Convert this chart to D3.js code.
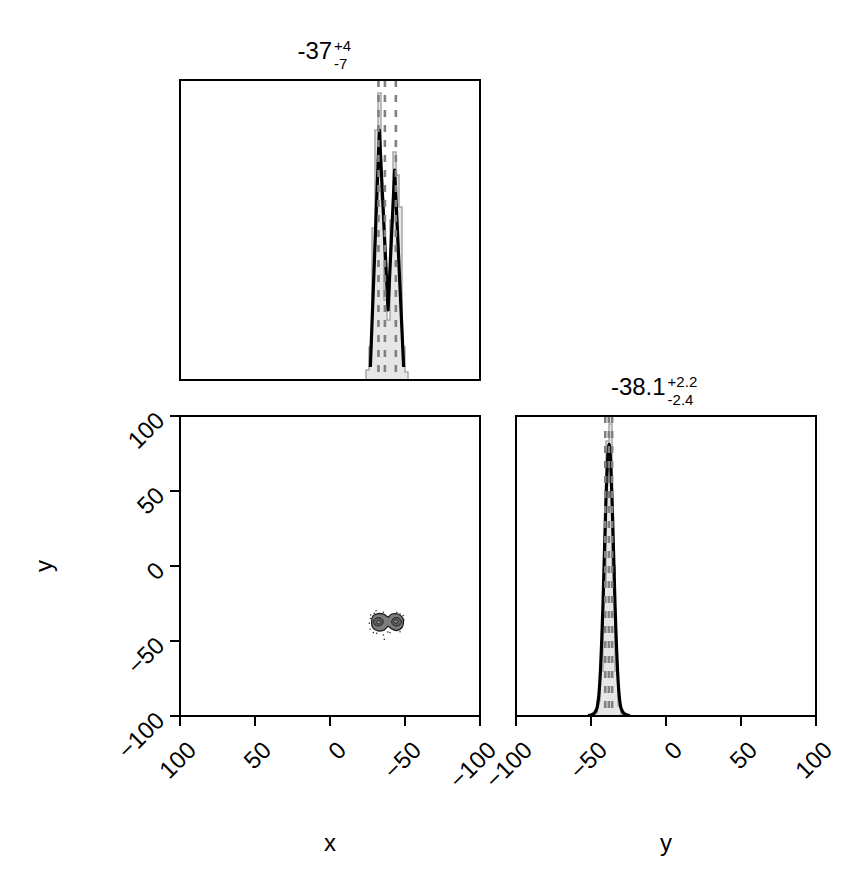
<!DOCTYPE html>
<html><head><meta charset="utf-8">
<script src="https://cdn.jsdelivr.net/npm/d3@7"></script>
<style>
body{margin:0;background:#fff}
svg{display:block}
text{font-family:"Liberation Sans", Arial, Helvetica, sans-serif;fill:#000}
</style>
</head><body>
<svg id="c" width="848" height="888"></svg>
<script>
// ---------------- data ----------------
const tickValues = [-100, -50, 0, 50, 100];
const axisLabels = ["x", "y"];

// x marginal (histogram bins, counts, density curve, quantiles)
const xBinEdges = [-52,-50,-48,-46,-44,-42,-40,-38,-36,-34,-32,-30,-28,-26,-24];
const xCounts   = [8, 33, 173, 205, 228, 160, 60, 80, 180, 287, 250, 152, 33, 10];
const xKdeX     = [-26.9, -32.9, -38.7, -43.1, -49.1];
const xKdeY     = [13, 250, 70, 210, 13];
const xQuantiles = [-43.9, -36.6, -32.3];
const xTitle = ["-37", "+4", "-7"];

// y marginal
const yBinEdges = [-48,-46,-44,-42,-40,-38,-36,-34,-32,-30,-28];
const yCounts   = [3, 15, 45, 130, 275, 292, 150, 45, 10, 2];
const yKdeX     = [-52, -50, -48, -46, -44, -42, -40, -37.9, -36, -34, -32, -30, -28, -26, -24];
const yKdeY     = [0.5, 1, 2.5, 8, 37, 112, 218, 272, 218, 112, 37, 8, 2.5, 1, 0.5];
const yQuantiles = [-40.5, -38.1, -35.9];
const yTitle = ["-38.1", "+2.2", "-2.4"];

// joint panel: outlying points and contour rings (x, y)
const outlierX = [-27.1,-30.7,-35.6,-42.2,-46.7,-26.2,-26.7,-28.9,-31.1,-35.6,-36.2,-40.0,-46.7,-47.8,-49.3,-44.5,-29.5,-38.5,-48.8,-27.0];
const outlierY = [-32.7,-29.8,-30.9,-32.7,-32.0,-38.2,-42.2,-44.4,-44.9,-46.0,-48.9,-44.4,-43.8,-40.4,-36.0,-31.1,-31.5,-44.0,-33.0,-35.0];
const outerRingX = [-27.7,-28.7,-32.0,-36.0,-38.7,-41.3,-45.3,-48.3,-49.0,-48.0,-44.7,-41.3,-38.7,-36.0,-32.0,-28.7];
const outerRingY = [-37.3,-33.3,-31.7,-32.3,-34.0,-32.0,-32.0,-34.3,-37.3,-41.0,-43.0,-42.0,-40.3,-42.7,-43.3,-41.3];
const midLeftX  = [-28.9,-29.9,-32.2,-34.5,-35.5,-34.5,-32.2,-29.9];
const midLeftY  = [-37.2,-35.2,-34.4,-35.2,-37.2,-39.2,-40.0,-39.2];
const midRightX = [-41.1,-42.0,-44.3,-46.6,-47.6,-46.6,-44.3,-42.0];
const midRightY = [-37.2,-35.2,-34.3,-35.2,-37.2,-39.2,-40.1,-39.2];
const innerLeftX  = [-31.0,-32.5,-34.0,-32.5];
const innerLeftY  = [-37.5,-36.3,-37.5,-38.7];
const innerRightX = [-42.5,-44.0,-45.5,-44.0];
const innerRightY = [-37.0,-35.8,-37.0,-38.2];

// ---------------- layout ----------------
const svg = d3.select("#c");
const S = 300;
const P1 = {x:180, y:80};   // x marginal
const P2 = {x:180, y:416};  // joint
const P3 = {x:516, y:416};  // y marginal
const TF = 24, SF = 15;

const xs  = d3.scaleLinear().domain([100, -100]).range([P1.x, P1.x + S]);
const ys2 = d3.scaleLinear().domain([-100, 100]).range([P2.y + S, P2.y]);
const xs3 = d3.scaleLinear().domain([-100, 100]).range([P3.x, P3.x + S]);
const h1  = d3.scaleLinear().domain([0, 300]).range([P1.y + S, P1.y]);
const h3  = d3.scaleLinear().domain([0, 300]).range([P3.y + S, P3.y]);

const defs = svg.append("defs");
function clip(id, P){
  defs.append("clipPath").attr("id", id).append("rect")
    .attr("x", P.x).attr("y", P.y).attr("width", S).attr("height", S);
  return svg.append("g").attr("clip-path", `url(#${id})`);
}

function stepPoints(edges, counts){
  const pts = [[edges[0], 0]];
  counts.forEach((c, i) => { pts.push([edges[i], c]); pts.push([edges[i+1], c]); });
  pts.push([edges[edges.length-1], 0]);
  return pts;
}

function marginal(g, P, xsc, hsc, edges, counts, kdeX, kdeY, quants, curve){
  const pts = stepPoints(edges, counts);
  const line = d3.line().x(d => xsc(d[0])).y(d => hsc(d[1]));
  g.append("path").attr("d", line(pts)).attr("fill", "#e6e6e6").attr("stroke", "#a8a8a8").attr("stroke-width", 1.5);
  const kde = kdeX.map((v, i) => [v, kdeY[i]]);
  g.append("path").attr("d", d3.line().x(d => xsc(d[0])).y(d => hsc(d[1])).curve(curve)(kde))
    .attr("fill", "none").attr("stroke", "#000").attr("stroke-width", 3.2).attr("stroke-linejoin", "round");
  g.selectAll("line.q").data(quants).join("line")
    .attr("x1", d => xsc(d)).attr("x2", d => xsc(d))
    .attr("y1", P.y).attr("y2", P.y + S)
    .attr("stroke", "#808080").attr("stroke-width", 2.6).attr("stroke-dasharray", "7,8");
}

// panel 1
const g1 = clip("c1", P1);
marginal(g1, P1, xs, h1, xBinEdges, xCounts, xKdeX, xKdeY, xQuantiles, d3.curveLinear);
// panel 3
const g3 = clip("c3", P3);
marginal(g3, P3, xs3, h3, yBinEdges, yCounts, yKdeX, yKdeY, yQuantiles, d3.curveMonotoneX);

// panel 2 joint
const g2 = clip("c2", P2);
const ring = (X, Y) => d3.line().curve(d3.curveCardinalClosed)(X.map((v, i) => [xs(v), ys2(Y[i])]));
g2.selectAll("circle").data(outlierX).join("circle")
  .attr("cx", d => xs(d)).attr("cy", (d, i) => ys2(outlierY[i])).attr("r", 0.8).attr("fill", "#333");
g2.append("path").attr("d", ring(outerRingX, outerRingY)).attr("fill", "#7c7c7c").attr("stroke", "#1e1e1e").attr("stroke-width", 1.3);
[[midLeftX, midLeftY], [midRightX, midRightY]].forEach(([X, Y]) =>
  g2.append("path").attr("d", ring(X, Y)).attr("fill", "#5e5e5e").attr("stroke", "#222").attr("stroke-width", 1));
[[innerLeftX, innerLeftY], [innerRightX, innerRightY]].forEach(([X, Y]) =>
  g2.append("path").attr("d", ring(X, Y)).attr("fill", "#8a8a8a").attr("stroke", "#222").attr("stroke-width", 1));

// frames
[P1, P2, P3].forEach(P => svg.append("rect").attr("x", P.x).attr("y", P.y).attr("width", S).attr("height", S)
  .attr("fill", "none").attr("stroke", "#000").attr("stroke-width", 2));

// axes
const fmt = d => d < 0 ? "\u2212" + Math.abs(d) : String(d);
function bottomAxis(sc, y0){
  const g = svg.append("g");
  g.selectAll("line").data(tickValues).join("line")
    .attr("x1", d => sc(d)).attr("x2", d => sc(d)).attr("y1", y0).attr("y2", y0 + 10)
    .attr("stroke", "#000").attr("stroke-width", 2);
  g.selectAll("text").data(tickValues).join("text")
    .attr("transform", d => `translate(${sc(d) + 3},${y0 + 21}) rotate(-45)`)
    .attr("text-anchor", "end").attr("dy", "0.86em").attr("font-size", 24).text(fmt);
}
bottomAxis(xs, P2.y + S);
bottomAxis(xs3, P3.y + S);
{
  const g = svg.append("g");
  g.selectAll("line").data(tickValues).join("line")
    .attr("x1", P2.x - 10).attr("x2", P2.x).attr("y1", d => ys2(d)).attr("y2", d => ys2(d))
    .attr("stroke", "#000").attr("stroke-width", 2);
  g.selectAll("text").data(tickValues).join("text")
    .attr("transform", d => `translate(${P2.x - 20},${ys2(d)}) rotate(-45)`)
    .attr("text-anchor", "end").attr("dy", "0.35em").attr("font-size", 24).text(fmt);
}
svg.append("text").attr("x", P2.x + S/2).attr("y", 851).attr("text-anchor", "middle").attr("font-size", TF).text(axisLabels[0]);
svg.append("text").attr("x", P3.x + S/2).attr("y", 851).attr("text-anchor", "middle").attr("font-size", TF).text(axisLabels[1]);
svg.append("text").attr("transform", `translate(52,566) rotate(-90)`).attr("text-anchor", "middle").attr("font-size", TF).text(axisLabels[1]);

// titles
function title(P, parts){
  const base = svg.append("text").attr("y", P.y - 21).attr("font-size", TF).text(parts[0]);
  const sup = svg.append("text").attr("y", P.y - 29).attr("font-size", SF).text(parts[1]);
  const sub = svg.append("text").attr("y", P.y - 11.5).attr("font-size", SF).text(parts[2]);
  const wb = base.node().getComputedTextLength();
  const ws = sup.node().getComputedTextLength();
  const wu = sub.node().getComputedTextLength();
  const total = wb + ws + wu;
  const x0 = P.x + S/2 - total/2;
  base.attr("x", x0);
  sup.attr("x", x0 + wb + 2);
  sub.attr("x", x0 + wb + 2);
}
title(P1, xTitle);
title(P3, yTitle);
</script>
</body></html>
